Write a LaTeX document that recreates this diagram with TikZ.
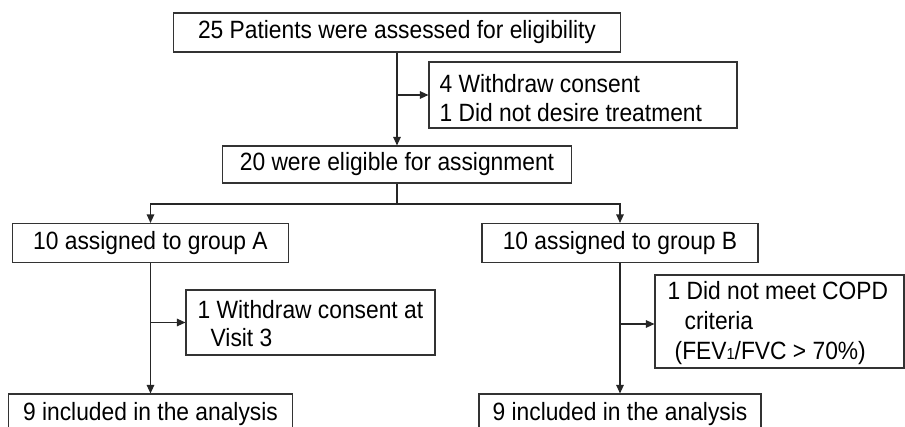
\documentclass[tikz,border=0pt]{standalone}
\usepackage{fontspec}
\setmainfont{Liberation Sans}[FakeStretch=0.912]
\usetikzlibrary{arrows.meta}
\begin{document}
\begin{tikzpicture}[x=1pt,y=-1pt,
  every node/.style={font=\fontsize{25}{28.5}\selectfont},
  box/.style={draw=black!80, line width=1.1pt, inner sep=0pt, rectangle},
  sidetext/.style={anchor=west, align=left, inner sep=0pt},
  arr/.style={draw=black!85, line width=1.2pt, -{Triangle[length=8.5pt,width=7.5pt]}},
  ln/.style={draw=black!85, line width=1.2pt}]
\clip (0,0) rectangle (905,427);
\fill[white] (0,0) rectangle (905,427);
% main column
\node[box, minimum width=447pt, minimum height=39pt] (b1) at (397,32.5) {25 Patients were assessed for eligibility};
\node[box, minimum width=308pt, minimum height=66pt] (s1) at (583,95) {};
\node[sidetext] (t1) at ([xshift=11pt,yshift=-3pt]s1.west) {4 Withdraw consent\\1 Did not desire treatment};
\node[box, minimum width=349pt, minimum height=37pt] (b2) at (397,164.5) {20 were eligible for assignment};
% groups
\node[box, minimum width=276pt, minimum height=39pt] (bA) at (150.5,243) {10 assigned to group A};
\node[box, minimum width=276pt, minimum height=39pt] (bB) at (620,243) {10 assigned to group B};
\node[box, minimum width=249pt, minimum height=65pt] (sA) at (310.5,322.5) {};
\node[sidetext] (tA) at ([xshift=12pt,yshift=-1pt]sA.west) {1 Withdraw consent at\\\hspace*{13pt}Visit 3};
\node[box, minimum width=249pt, minimum height=93pt] (sB) at (779.5,321.5) {};
\node[sidetext, font=\fontsize{25}{30}\selectfont] (tB) at ([xshift=13pt,yshift=-2pt]sB.west) {1 Did not meet COPD\\\hspace*{17pt}criteria\\\hspace*{7pt}(FEV{\fontsize{16}{16}\selectfont 1}/FVC \textgreater{} 70\%)};
\node[box, minimum width=284pt, minimum height=40pt] (cA) at (150.5,414) {9 included in the analysis};
\node[box, minimum width=282pt, minimum height=40pt] (cB) at (620,414) {9 included in the analysis};
% connectors
\coordinate (j1) at (397,95);
\draw[arr] (b1) -- (b2);
\draw[arr] (j1) -- (s1.west);
\coordinate (j2) at (397,204);
\draw[ln] (b2) -- (j2);
\draw[arr] (j2) -| (bA.north);
\draw[arr] (j2) -| (bB.north);
\coordinate (jA) at (150.5,322.5);
\draw[arr] (bA) -- (cA);
\draw[arr] (jA) -- (sA.west);
\coordinate (jB) at (620,324);
\draw[arr] (bB) -- (cB);
\draw[arr] (jB) -- (jB -| sB.west);
\end{tikzpicture}
\end{document}
